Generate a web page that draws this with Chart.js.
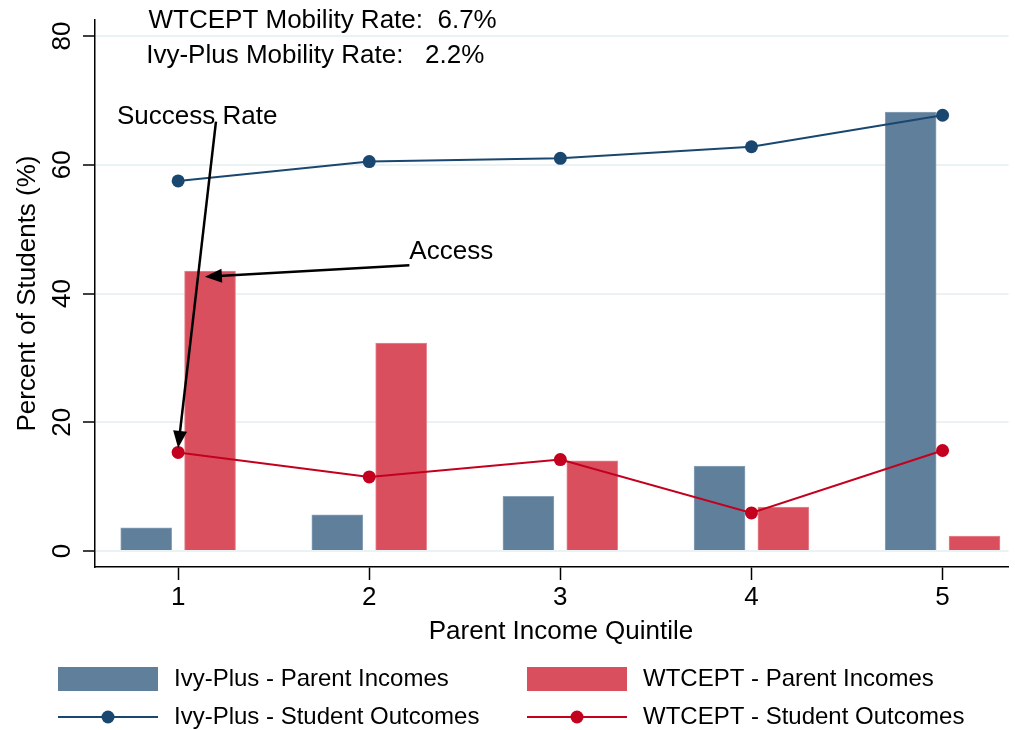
<!DOCTYPE html>
<html>
<head>
<meta charset="utf-8">
<script src="https://cdn.jsdelivr.net/npm/chart.js@4.4.1/dist/chart.umd.min.js"></script>
<style>
  body { margin: 0; background: #fff; }
  #wrap { width: 1015px; height: 730px; }
</style>
</head>
<body>
<div id="wrap"><canvas id="chart" width="1015" height="730"></canvas></div>
<script>
// data
const quintiles = [1, 2, 3, 4, 5];
const ivyParentIncomes = [3.6, 5.6, 8.5, 13.2, 68.2];
const wtceptParentIncomes = [43.5, 32.3, 14.0, 6.8, 2.3];
const ivyOutcomes = [57.5, 60.5, 61.0, 62.8, 67.7];
const wtceptOutcomes = [15.3, 11.5, 14.2, 5.9, 15.6];
const yTicks = [0, 20, 40, 60, 80];
const xTicks = [1, 2, 3, 4, 5];
const legendLabels = ['Ivy-Plus - Parent Incomes', 'WTCEPT - Parent Incomes',
                      'Ivy-Plus - Student Outcomes', 'WTCEPT - Student Outcomes'];
const mobilityNotes = ['WTCEPT Mobility Rate:  6.7%', 'Ivy-Plus Mobility Rate:   2.2%'];

const BLUE_BAR = '#5f7f9b', RED_BAR = '#da4f5d';
const BLUE_LINE = '#1a476f', RED_LINE = '#c4001f';
const FONT = '"Liberation Sans", Arial, sans-serif';
const barShift = 0.167;

const pts = (xs, ys, dx) => xs.map((q, i) => ({ x: q + dx, y: ys[i] }));

function arrow(ctx, x1, y1, x2, y2) {
  const a = Math.atan2(y2 - y1, x2 - x1), len = 17, w = 7;
  ctx.beginPath();
  ctx.moveTo(x1, y1);
  ctx.lineTo(x2 - Math.cos(a) * len * 0.8, y2 - Math.sin(a) * len * 0.8);
  ctx.stroke();
  ctx.beginPath();
  ctx.moveTo(x2, y2);
  ctx.lineTo(x2 - Math.cos(a) * len - Math.sin(a) * w, y2 - Math.sin(a) * len + Math.cos(a) * w);
  ctx.lineTo(x2 - Math.cos(a) * len + Math.sin(a) * w, y2 - Math.sin(a) * len - Math.cos(a) * w);
  ctx.closePath();
  ctx.fill();
}

const extras = {
  id: 'extras',
  afterDraw(chart) {
    const ctx = chart.ctx, x = chart.scales.x, y = chart.scales.y, ca = chart.chartArea;
    ctx.save();
    ctx.fillStyle = '#000';
    ctx.font = '26px ' + FONT;

    // y tick labels, rotated
    ctx.textAlign = 'center';
    ctx.textBaseline = 'middle';
    yTicks.forEach(v => {
      ctx.save();
      ctx.translate(63, y.getPixelForValue(v));
      ctx.rotate(-Math.PI / 2);
      ctx.fillText(String(v), 0, 0);
      ctx.restore();
    });

    // axis titles
    ctx.save();
    ctx.translate(28, (ca.top + ca.bottom) / 2);
    ctx.rotate(-Math.PI / 2);
    ctx.fillText('Percent of Students (%)', 0, 0);
    ctx.restore();
    ctx.fillText('Parent Income Quintile', 561, 632);

    // annotations
    ctx.textAlign = 'left';
    ctx.fillText(mobilityNotes[0], x.getPixelForValue(0.845), y.getPixelForValue(82.4));
    ctx.fillText(mobilityNotes[1], x.getPixelForValue(0.833), y.getPixelForValue(76.9));
    ctx.fillText('Success Rate', x.getPixelForValue(0.68), y.getPixelForValue(67.4));
    ctx.fillText('Access', x.getPixelForValue(2.21), y.getPixelForValue(46.5));

    ctx.strokeStyle = '#000';
    ctx.lineWidth = 2.5;
    arrow(ctx, x.getPixelForValue(1.198), y.getPixelForValue(66.7),
               x.getPixelForValue(1.0), y.getPixelForValue(16.0));
    arrow(ctx, x.getPixelForValue(2.21), y.getPixelForValue(44.4),
               x.getPixelForValue(1.14), y.getPixelForValue(42.6));

    // legend
    ctx.font = '24px ' + FONT;
    const cols = [58, 527], rows = [679, 717];
    [[BLUE_BAR, RED_BAR], [BLUE_LINE, RED_LINE]].forEach((colors, r) => {
      colors.forEach((c, k) => {
        const lx = cols[k], ly = rows[r];
        if (r === 0) {
          ctx.fillStyle = c;
          ctx.fillRect(lx, ly - 12, 100, 24);
        } else {
          ctx.strokeStyle = c;
          ctx.lineWidth = 2;
          ctx.beginPath(); ctx.moveTo(lx, ly); ctx.lineTo(lx + 100, ly); ctx.stroke();
          ctx.fillStyle = c;
          ctx.beginPath(); ctx.arc(lx + 50, ly, 6.5, 0, Math.PI * 2); ctx.fill();
        }
        ctx.fillStyle = '#000';
        ctx.textAlign = 'left';
        ctx.fillText(legendLabels[r * 2 + k], lx + 116, ly);
      });
    });
    ctx.restore();
  }
};

new Chart(document.getElementById('chart'), {
  data: {
    datasets: [
      {
        type: 'line', label: legendLabels[2], data: pts(quintiles, ivyOutcomes, 0),
        borderColor: BLUE_LINE, backgroundColor: BLUE_LINE, borderWidth: 2,
        pointRadius: 6.5, pointBorderWidth: 0, order: 1
      },
      {
        type: 'line', label: legendLabels[3], data: pts(quintiles, wtceptOutcomes, 0),
        borderColor: RED_LINE, backgroundColor: RED_LINE, borderWidth: 2,
        pointRadius: 6.5, pointBorderWidth: 0, order: 1
      },
      {
        type: 'bar', label: legendLabels[0], data: pts(quintiles, ivyParentIncomes, -barShift),
        backgroundColor: BLUE_BAR, borderColor: '#8ba3b8', borderWidth: 1,
        barThickness: 51, grouped: false, order: 2
      },
      {
        type: 'bar', label: legendLabels[1], data: pts(quintiles, wtceptParentIncomes, barShift),
        backgroundColor: RED_BAR, borderColor: '#e58791', borderWidth: 1,
        barThickness: 51, grouped: false, order: 2
      }
    ]
  },
  options: {
    responsive: false,
    animation: false,
    layout: { padding: { top: 20, right: 0, left: 0, bottom: 0 } },
    plugins: { legend: { display: false }, tooltip: { enabled: false } },
    scales: {
      x: {
        type: 'linear', min: 0.565, max: 5.345, offset: false,
        afterBuildTicks: s => { s.ticks = xTicks.map(v => ({ value: v })); },
        afterFit: s => { s.height = 163; },
        grid: { offset: false, drawOnChartArea: false, drawTicks: true, tickLength: 13, tickColor: '#000', tickWidth: 1.5 },
        border: { color: '#000', width: 1.5 },
        ticks: { color: '#000', font: { family: FONT, size: 26 }, padding: 2, maxRotation: 0 }
      },
      y: {
        type: 'linear', min: -2.5, max: 82.5,
        afterBuildTicks: s => { s.ticks = yTicks.map(v => ({ value: v })); },
        afterFit: s => { s.width = 95; },
        grid: { color: '#eaf2f3', lineWidth: 2, tickLength: 12, tickColor: '#000', tickWidth: 1.5 },
        border: { color: '#000', width: 1.5 },
        ticks: { display: false }
      }
    }
  },
  plugins: [extras]
});
</script>
</body>
</html>
